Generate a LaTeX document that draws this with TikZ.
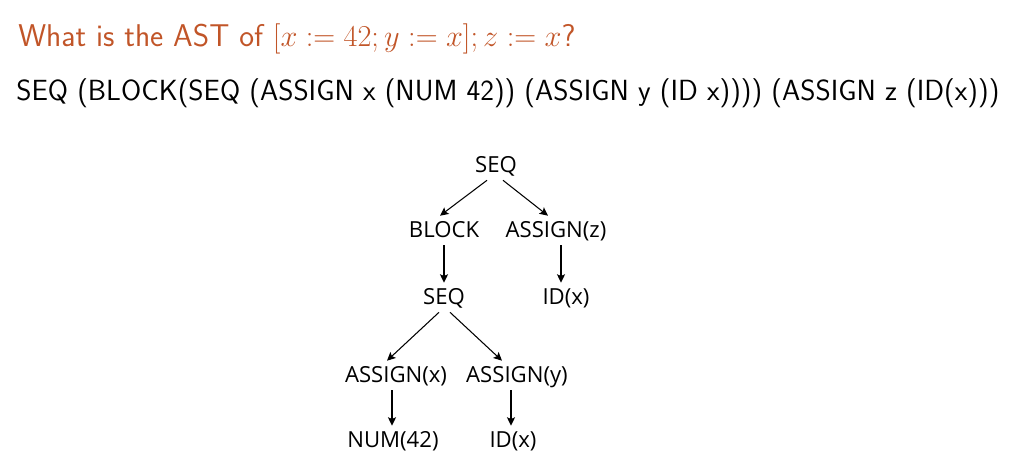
\documentclass[tikz,border=0pt]{standalone}
\usepackage{fontspec}
\newfontfamily\treefont{Open Sans}
\usetikzlibrary{calc}
\usetikzlibrary{arrows.meta}
\definecolor{titleorange}{RGB}{193,85,40}
\tikzset{
  astlbl/.style={font=\treefont\fontsize{12.6}{14}\selectfont, inner sep=3.97pt,
    text height=8.5pt, text depth=0pt},
  astedge/.style={-{Stealth[length=4.8pt,width=4.6pt,inset=1pt]}, line width=0.6pt},
}
\newcommand{\astnode}[4]{\node[astlbl] (#1) at ( #2 , #3 ) {#4};}

\begin{document}
\begin{tikzpicture}[x=0.02cm,y=-0.02cm]
        \useasboundingbox (0,0) rectangle (1018,466);

        % slide text
        \node[anchor=base west, inner sep=0pt, text=titleorange,
          font=\sffamily\fontsize{17.9}{21}\selectfont] (title) at (18,47)
          {What is the AST of $[x := 42; y := x]; z := x$?};
        \node[anchor=base west, inner sep=0pt,
          font=\sffamily\fontsize{16.6}{20}\selectfont] (term) at (16,101)
          {SEQ (BLOCK(SEQ (ASSIGN x (NUM 42)) (ASSIGN y (ID x)))) (ASSIGN z (ID(x)))};

        % tree
        \astnode{seq}{496}{165.5}{SEQ}
        \astnode{block}{444}{230.5}{BLOCK}
        \astnode{asgz}{556}{230.5}{ASSIGN(z)}
        \astnode{seqb}{444}{297.5}{SEQ}
        \astnode{idz}{566}{297.5}{ID(x)}
        \astnode{asgx}{396}{375.5}{ASSIGN(x)}
        \astnode{asgy}{517}{375.5}{ASSIGN(y)}
        \astnode{num}{393}{440.5}{NUM(42)}
        \astnode{idy}{513}{440.5}{ID(x)}

        % edges
        \draw[astedge] ($(seq.south)+(-9,0)$) -- ($(block.north)+(-4,0)$);
        \draw[astedge] ($(seq.south)+(7,0)$) -- ($(asgz.north)+(-8,0)$);
        \draw[astedge] (block.south) -- (seqb.north);
        \draw[astedge] ($(asgz.south)+(5,0)$) -- ($(idz.north)+(-5,0)$);
        \draw[astedge] ($(seqb.south)+(-5,0)$) -- ($(asgx.north)+(-9,0)$);
        \draw[astedge] ($(seqb.south)+(6,0)$) -- ($(asgy.north)+(-15,0)$);
        \draw[astedge] ($(asgx.south)+(-4,0)$) -- ($(num.north)+(-1,0)$);
        \draw[astedge] ($(asgy.south)+(-6,0)$) -- ($(idy.north)+(-2,0)$);
    \end{tikzpicture}
\end{document}
